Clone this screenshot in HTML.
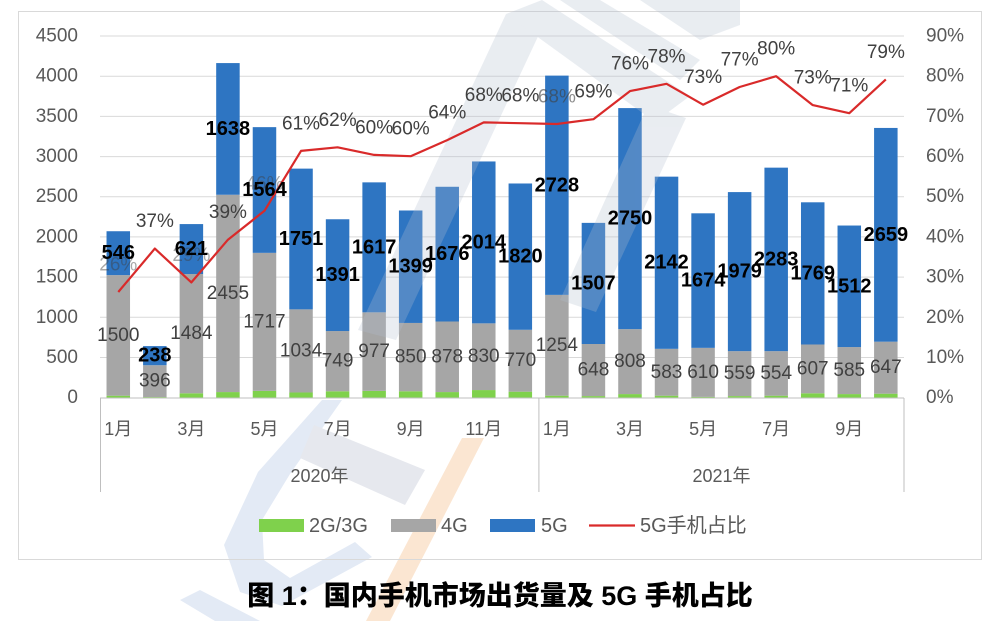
<!DOCTYPE html>
<html>
<head>
<meta charset="utf-8">
<style>
  html,body{margin:0;padding:0;background:#ffffff;}
  svg{display:block;}
  .ax{font-family:"Liberation Sans","Noto Sans CJK SC",sans-serif;font-size:19px;fill:#595959;}
  .mo{font-family:"Liberation Sans","Noto Sans CJK SC",sans-serif;font-size:18px;fill:#595959;}
  .pc{font-family:"Liberation Sans",sans-serif;font-size:19px;fill:#404040;}
  .g4{font-family:"Liberation Sans",sans-serif;font-size:19px;fill:#404040;}
  .g5{font-family:"Liberation Sans",sans-serif;font-size:20px;font-weight:bold;fill:#000;}
  .lg{font-family:"Liberation Sans","Noto Sans CJK SC",sans-serif;font-size:20px;fill:#595959;}
  .tt{font-family:"Liberation Sans","Noto Sans CJK SC",sans-serif;font-size:27px;font-weight:900;fill:#000;}
</style>
</head>
<body>
<svg width="1000" height="621" viewBox="0 0 1000 621" xmlns="http://www.w3.org/2000/svg">
  <rect x="0" y="0" width="1000" height="621" fill="#ffffff"/>

  <!-- watermark (below) -->
  <g>
    <polygon points="462,438 484,438 390,621 366,621" fill="#fbe6d2"/>
    <polygon points="322,400 342,400 290,474 262,520 264,560 290,578 355,542 372,557 282,606 240,592 224,545 258,472" fill="#e3eaf5"/>
    <polygon points="314,425 425,470 405,505 300,458" fill="#e6e8ee"/>
    <polygon points="180,600 200,590 260,621 215,621" fill="#e3eaf5"/>
  </g>

  <!-- chart border -->
  <rect x="18.5" y="11.5" width="963" height="548" fill="none" stroke="#d9d9d9" stroke-width="1"/>

  <!-- gridlines -->
  <g stroke="#d9d9d9" stroke-width="1">
    <line x1="100" y1="357.5" x2="904" y2="357.5"/>
    <line x1="100" y1="317.3" x2="904" y2="317.3"/>
    <line x1="100" y1="277.1" x2="904" y2="277.1"/>
    <line x1="100" y1="236.9" x2="904" y2="236.9"/>
    <line x1="100" y1="196.7" x2="904" y2="196.7"/>
    <line x1="100" y1="156.6" x2="904" y2="156.6"/>
    <line x1="100" y1="116.4" x2="904" y2="116.4"/>
    <line x1="100" y1="76.2" x2="904" y2="76.2"/>
    <line x1="100" y1="36" x2="904" y2="36"/>
  </g>

  <!-- left axis labels -->
  <g class="ax" text-anchor="end" dominant-baseline="central">
    <text x="78" y="397.7">0</text>
    <text x="78" y="357.5">500</text>
    <text x="78" y="317.3">1000</text>
    <text x="78" y="277.1">1500</text>
    <text x="78" y="236.9">2000</text>
    <text x="78" y="196.7">2500</text>
    <text x="78" y="156.6">3000</text>
    <text x="78" y="116.4">3500</text>
    <text x="78" y="76.2">4000</text>
    <text x="78" y="36">4500</text>
  </g>
  <!-- right axis labels -->
  <g class="ax" text-anchor="start" dominant-baseline="central">
    <text x="926" y="397.7">0%</text>
    <text x="926" y="357.5">10%</text>
    <text x="926" y="317.3">20%</text>
    <text x="926" y="277.1">30%</text>
    <text x="926" y="236.9">40%</text>
    <text x="926" y="196.7">50%</text>
    <text x="926" y="156.6">60%</text>
    <text x="926" y="116.4">70%</text>
    <text x="926" y="76.2">80%</text>
    <text x="926" y="36">90%</text>
  </g>

  <!-- bars: 2G/3G -->
  <g fill="#7fd14c">
    <rect x="106.53" y="395.69" width="23.5" height="2.01"/>
    <rect x="143.08" y="397.06" width="23.5" height="0.64"/>
    <rect x="179.63" y="393.28" width="23.5" height="4.42"/>
    <rect x="216.18" y="392.07" width="23.5" height="5.63"/>
    <rect x="252.73" y="390.87" width="23.5" height="6.83"/>
    <rect x="289.28" y="392.48" width="23.5" height="5.22"/>
    <rect x="325.83" y="391.27" width="23.5" height="6.43"/>
    <rect x="362.38" y="390.87" width="23.5" height="6.83"/>
    <rect x="398.93" y="391.27" width="23.5" height="6.43"/>
    <rect x="435.48" y="392.07" width="23.5" height="5.63"/>
    <rect x="472.03" y="390.06" width="23.5" height="7.64"/>
    <rect x="508.58" y="391.67" width="23.5" height="6.03"/>
    <rect x="545.13" y="395.69" width="23.5" height="2.01"/>
    <rect x="581.68" y="396.09" width="23.5" height="1.61"/>
    <rect x="618.23" y="394.08" width="23.5" height="3.62"/>
    <rect x="654.78" y="395.69" width="23.5" height="2.01"/>
    <rect x="691.33" y="396.90" width="23.5" height="0.80"/>
    <rect x="727.88" y="396.09" width="23.5" height="1.61"/>
    <rect x="764.43" y="395.69" width="23.5" height="2.01"/>
    <rect x="800.98" y="393.28" width="23.5" height="4.42"/>
    <rect x="837.53" y="394.08" width="23.5" height="3.62"/>
    <rect x="874.08" y="393.68" width="23.5" height="4.02"/>
  </g>
  <!-- bars: 4G -->
  <g fill="#a6a6a6">
    <rect x="106.53" y="275.12" width="23.5" height="120.57"/>
    <rect x="143.08" y="365.23" width="23.5" height="31.83"/>
    <rect x="179.63" y="274.00" width="23.5" height="119.28"/>
    <rect x="216.18" y="194.74" width="23.5" height="197.33"/>
    <rect x="252.73" y="252.86" width="23.5" height="138.01"/>
    <rect x="289.28" y="309.36" width="23.5" height="83.12"/>
    <rect x="325.83" y="331.06" width="23.5" height="60.21"/>
    <rect x="362.38" y="312.34" width="23.5" height="78.53"/>
    <rect x="398.93" y="322.95" width="23.5" height="68.32"/>
    <rect x="435.48" y="321.50" width="23.5" height="70.57"/>
    <rect x="472.03" y="323.35" width="23.5" height="66.71"/>
    <rect x="508.58" y="329.78" width="23.5" height="61.89"/>
    <rect x="545.13" y="294.89" width="23.5" height="100.80"/>
    <rect x="581.68" y="344.01" width="23.5" height="52.08"/>
    <rect x="618.23" y="329.14" width="23.5" height="64.94"/>
    <rect x="654.78" y="348.83" width="23.5" height="46.86"/>
    <rect x="691.33" y="347.86" width="23.5" height="49.04"/>
    <rect x="727.88" y="351.16" width="23.5" height="44.93"/>
    <rect x="764.43" y="351.16" width="23.5" height="44.53"/>
    <rect x="800.98" y="344.49" width="23.5" height="48.79"/>
    <rect x="837.53" y="347.06" width="23.5" height="47.02"/>
    <rect x="874.08" y="341.68" width="23.5" height="52.00"/>
  </g>
  <!-- bars: 5G -->
  <g fill="#2e75c2">
    <rect x="106.53" y="231.23" width="23.5" height="43.89"/>
    <rect x="143.08" y="346.10" width="23.5" height="19.13"/>
    <rect x="179.63" y="224.08" width="23.5" height="49.92"/>
    <rect x="216.18" y="63.08" width="23.5" height="131.66"/>
    <rect x="252.73" y="127.14" width="23.5" height="125.72"/>
    <rect x="289.28" y="168.62" width="23.5" height="140.74"/>
    <rect x="325.83" y="219.26" width="23.5" height="111.80"/>
    <rect x="362.38" y="182.36" width="23.5" height="129.98"/>
    <rect x="398.93" y="210.49" width="23.5" height="112.46"/>
    <rect x="435.48" y="186.78" width="23.5" height="134.72"/>
    <rect x="472.03" y="161.46" width="23.5" height="161.89"/>
    <rect x="508.58" y="183.49" width="23.5" height="146.29"/>
    <rect x="545.13" y="75.62" width="23.5" height="219.27"/>
    <rect x="581.68" y="222.87" width="23.5" height="121.14"/>
    <rect x="618.23" y="108.09" width="23.5" height="221.05"/>
    <rect x="654.78" y="176.65" width="23.5" height="172.18"/>
    <rect x="691.33" y="213.31" width="23.5" height="134.55"/>
    <rect x="727.88" y="192.09" width="23.5" height="159.07"/>
    <rect x="764.43" y="167.65" width="23.5" height="183.51"/>
    <rect x="800.98" y="202.30" width="23.5" height="142.19"/>
    <rect x="837.53" y="225.53" width="23.5" height="121.53"/>
    <rect x="874.08" y="127.94" width="23.5" height="213.74"/>
  </g>

  <!-- watermark overlay on plot -->
  <g fill="#b4bfd0" opacity="0.28">
    <polygon points="358,330 396,340 542,28 506,14"/>
    <polygon points="506,14 542,0 690,96 655,122"/>
    <polygon points="648,105 686,118 596,312 560,300"/>
    <polygon points="560,0 600,0 700,60 680,80"/>
    <polygon points="640,0 740,0 740,25 700,40"/>
  </g>

  <!-- category axis -->
  <g stroke="#bfbfbf" stroke-width="1">
    <line x1="100" y1="398" x2="904" y2="398"/>
    <line x1="100.5" y1="398" x2="100.5" y2="492"/>
    <line x1="538.9" y1="398" x2="538.9" y2="492"/>
    <line x1="904" y1="398" x2="904" y2="492"/>
  </g>
  <g class="mo" text-anchor="middle" dominant-baseline="central">
    <text x="118.28" y="429">1月</text>
    <text x="191.38" y="429">3月</text>
    <text x="264.48" y="429">5月</text>
    <text x="337.58" y="429">7月</text>
    <text x="410.68" y="429">9月</text>
    <text x="483.78" y="429">11月</text>
    <text x="556.88" y="429">1月</text>
    <text x="629.98" y="429">3月</text>
    <text x="703.08" y="429">5月</text>
    <text x="776.18" y="429">7月</text>
    <text x="849.28" y="429">9月</text>
    <text x="319.5" y="476">2020年</text>
    <text x="721.5" y="476">2021年</text>
  </g>

  <!-- 4G labels -->
  <g class="g4" text-anchor="middle" dominant-baseline="central">
    <text x="118.28" y="335.4">1500</text>
    <text x="154.83" y="381.1">396</text>
    <text x="191.38" y="333.6">1484</text>
    <text x="227.93" y="293.4">2455</text>
    <text x="264.48" y="321.9">1717</text>
    <text x="301.03" y="350.9">1034</text>
    <text x="337.58" y="361.2">749</text>
    <text x="374.13" y="351.6">977</text>
    <text x="410.68" y="357.1">850</text>
    <text x="447.23" y="356.8">878</text>
    <text x="483.78" y="356.7">830</text>
    <text x="520.33" y="360.7">770</text>
    <text x="556.88" y="345.3">1254</text>
    <text x="593.43" y="370.1">648</text>
    <text x="629.98" y="361.6">808</text>
    <text x="666.53" y="372.3">583</text>
    <text x="703.08" y="372.4">610</text>
    <text x="739.63" y="373.6">559</text>
    <text x="776.18" y="373.4">554</text>
    <text x="812.73" y="368.9">607</text>
    <text x="849.28" y="370.6">585</text>
    <text x="885.83" y="367.7">647</text>
  </g>

  <!-- share line -->
  <polyline fill="none" stroke="#d92a2a" stroke-width="2.2" stroke-linejoin="round"
    points="118.28,292.0 154.83,248.6 191.38,282.4 227.93,239.7 264.48,210.8 301.03,150.9 337.58,147.3 374.13,154.9 410.68,156.2 447.23,140.1 483.78,122.4 520.33,123.2 556.88,124.0 593.43,119.2 629.98,91.1 666.53,83.8 703.08,104.7 739.63,87.0 776.18,76.2 812.73,105.1 849.28,113.2 885.83,79.4"/>

  <!-- percent labels -->
  <g class="pc" text-anchor="middle" dominant-baseline="central">
    <text x="118.28" y="265" opacity="0.45">26%</text>
    <text x="154.83" y="221.6">37%</text>
    <text x="191.38" y="255.4" opacity="0.45">29%</text>
    <text x="227.93" y="212.7">39%</text>
    <text x="264.48" y="183.8" opacity="0.45">46%</text>
    <text x="301.03" y="123.9">61%</text>
    <text x="337.58" y="120.3">62%</text>
    <text x="374.13" y="127.9">60%</text>
    <text x="410.68" y="129.2">60%</text>
    <text x="447.23" y="113.1">64%</text>
    <text x="483.78" y="95.4">68%</text>
    <text x="520.33" y="96.2">68%</text>
    <text x="556.88" y="97.0" opacity="0.6">68%</text>
    <text x="593.43" y="92.2">69%</text>
    <text x="629.98" y="64.1">76%</text>
    <text x="666.53" y="56.8">78%</text>
    <text x="703.08" y="77.7">73%</text>
    <text x="739.63" y="60">77%</text>
    <text x="776.18" y="49.2">80%</text>
    <text x="812.73" y="78.1">73%</text>
    <text x="849.28" y="86.2">71%</text>
    <text x="885.83" y="52.4">79%</text>
  </g>

  <!-- 5G labels -->
  <g class="g5" text-anchor="middle" dominant-baseline="central">
    <text x="118.28" y="253.2">546</text>
    <text x="154.83" y="355.7">238</text>
    <text x="191.38" y="249.0">621</text>
    <text x="227.93" y="128.9">1638</text>
    <text x="264.48" y="190.0">1564</text>
    <text x="301.03" y="239.0">1751</text>
    <text x="337.58" y="275.2">1391</text>
    <text x="374.13" y="247.4">1617</text>
    <text x="410.68" y="266.7">1399</text>
    <text x="447.23" y="254.1">1676</text>
    <text x="483.78" y="242.4">2014</text>
    <text x="520.33" y="256.6">1820</text>
    <text x="556.88" y="185.3">2728</text>
    <text x="593.43" y="283.4">1507</text>
    <text x="629.98" y="218.6">2750</text>
    <text x="666.53" y="262.7">2142</text>
    <text x="703.08" y="280.6">1674</text>
    <text x="739.63" y="271.6">1979</text>
    <text x="776.18" y="259.4">2283</text>
    <text x="812.73" y="273.4">1769</text>
    <text x="849.28" y="286.3">1512</text>
    <text x="885.83" y="234.8">2659</text>
  </g>

  <!-- legend -->
  <rect x="259" y="519" width="45" height="13" fill="#7fd14c"/>
  <text class="lg" x="309" y="526" dominant-baseline="central">2G/3G</text>
  <rect x="391" y="519" width="45" height="13" fill="#a6a6a6"/>
  <text class="lg" x="441" y="526" dominant-baseline="central">4G</text>
  <rect x="490" y="519" width="45" height="13" fill="#2e75c2"/>
  <text class="lg" x="541" y="526" dominant-baseline="central">5G</text>
  <line x1="589" y1="525.5" x2="635" y2="525.5" stroke="#d92a2a" stroke-width="2.2"/>
  <text class="lg" x="640" y="526" dominant-baseline="central">5G手机占比</text>

  <!-- title -->
  <text class="tt" x="500" y="596" text-anchor="middle" dominant-baseline="central">图 1：国内手机市场出货量及 5G 手机占比</text>
</svg>
</body>
</html>
